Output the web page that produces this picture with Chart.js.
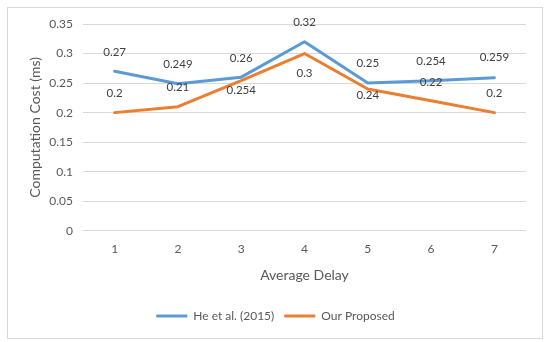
<!DOCTYPE html>
<html>
<head>
<meta charset="utf-8">
<script src="https://cdn.jsdelivr.net/npm/chart.js@4/dist/chart.umd.min.js"></script>
<style>
  html, body { margin: 0; padding: 0; background: #fff; }
</style>
</head>
<body>
<canvas id="costChart" width="550" height="342"></canvas>
<script>
// values
const delays = ["1", "2", "3", "4", "5", "6", "7"];
const heEtAl = [0.27, 0.249, 0.26, 0.32, 0.25, 0.254, 0.259];
const ourProposed = [0.2, 0.21, 0.254, 0.3, 0.24, 0.22, 0.2];
const yTickLabels = ["0", "0.05", "0.1", "0.15", "0.2", "0.25", "0.3", "0.35"];

const fontFamily = "Lato, 'Open Sans', sans-serif";
const greyText = "#595959";

// outer frame like the Excel chart border
const frame = {
  id: "frame",
  beforeDraw(chart) {
    const c = chart.ctx;
    c.save();
    c.fillStyle = "#fff";
    c.fillRect(0, 0, chart.width, chart.height);
    c.strokeStyle = "#d9d9d9";
    c.lineWidth = 1;
    c.strokeRect(7.5, 7.5, 535, 331);
    c.restore();
  },
  // legend is centred on the frame, not on the padded area
  afterLayout(chart) {
    if (chart.legend) {
      chart.legend.left += 9;
      chart.legend.right += 9;
    }
  },
};

// value labels next to each point
const valueLabels = {
  id: "valueLabels",
  afterDatasetsDraw(chart, args, opts) {
    const c = chart.ctx;
    c.save();
    c.font = opts.font;
    c.fillStyle = opts.color;
    c.textAlign = "center";
    c.textBaseline = "middle";
    chart.data.datasets.forEach((ds, i) => {
      const meta = chart.getDatasetMeta(i);
      const shift = opts.shifts[i];
      meta.data.forEach((pt, j) => {
        c.fillText(String(ds.data[j]), pt.x, pt.y + shift[j]);
      });
    });
    c.restore();
  },
};

let ctx = document.getElementById("costChart");

let costChart = new Chart(ctx, {
  type: "line",
  data: {
    labels: delays,
    datasets: [
      {
        label: "He et al. (2015)",
        data: heEtAl,
        borderColor: "#5b9bd5",
        backgroundColor: "#5b9bd5",
        borderWidth: 3,
        pointRadius: 0,
        borderJoinStyle: "round",
        borderCapStyle: "round",
        tension: 0,
      },
      {
        label: "Our Proposed",
        data: ourProposed,
        borderColor: "#ed7d31",
        backgroundColor: "#ed7d31",
        borderWidth: 3,
        pointRadius: 0,
        borderJoinStyle: "round",
        borderCapStyle: "round",
        tension: 0,
      },
    ],
  },
  options: {
    responsive: false,
    animation: false,
    devicePixelRatio: 1,
    layout: {
      padding: { left: 7, right: 24, top: 24, bottom: 10 },
    },
    plugins: {
      legend: {
        position: "bottom",
        labels: {
          color: greyText,
          font: { family: fontFamily, size: 12 },
          usePointStyle: true,
          pointStyle: "line",
          pointStyleWidth: 31,
          padding: 10,
        },
      },
      tooltip: { enabled: false },
      valueLabels: {
        font: "11.5px " + fontFamily,
        color: "#404040",
        shifts: [
          [-19, -19, -19, -19, -20, -19, -20],
          [-19, -19, 10, 20, 6, -19, -19],
        ],
      },
    },
    scales: {
      x: {
        offset: true,
        grid: { display: false, drawTicks: false },
        border: { display: false },
        ticks: {
          color: greyText,
          font: { family: fontFamily, size: 12 },
          padding: 11,
        },
        title: {
          display: true,
          text: "Average Delay",
          color: greyText,
          font: { family: fontFamily, size: 14 },
          padding: { top: 0, bottom: 16 },
        },
      },
      y: {
        min: 0,
        max: 0.35,
        grid: { color: "#d9d9d9", drawTicks: false },
        border: { display: false },
        ticks: {
          stepSize: 0.05,
          color: greyText,
          font: { family: fontFamily, size: 12 },
          padding: 10,
          callback: (v, i) => yTickLabels[i],
        },
        title: {
          display: true,
          text: "Computation Cost (ms)",
          color: greyText,
          font: { family: fontFamily, size: 14 },
          padding: { top: 20, bottom: 0 },
        },
        afterFit(scale) {
          scale.width = 76;
        },
      },
    },
  },
  plugins: [frame, valueLabels],
});
</script>
</body>
</html>
